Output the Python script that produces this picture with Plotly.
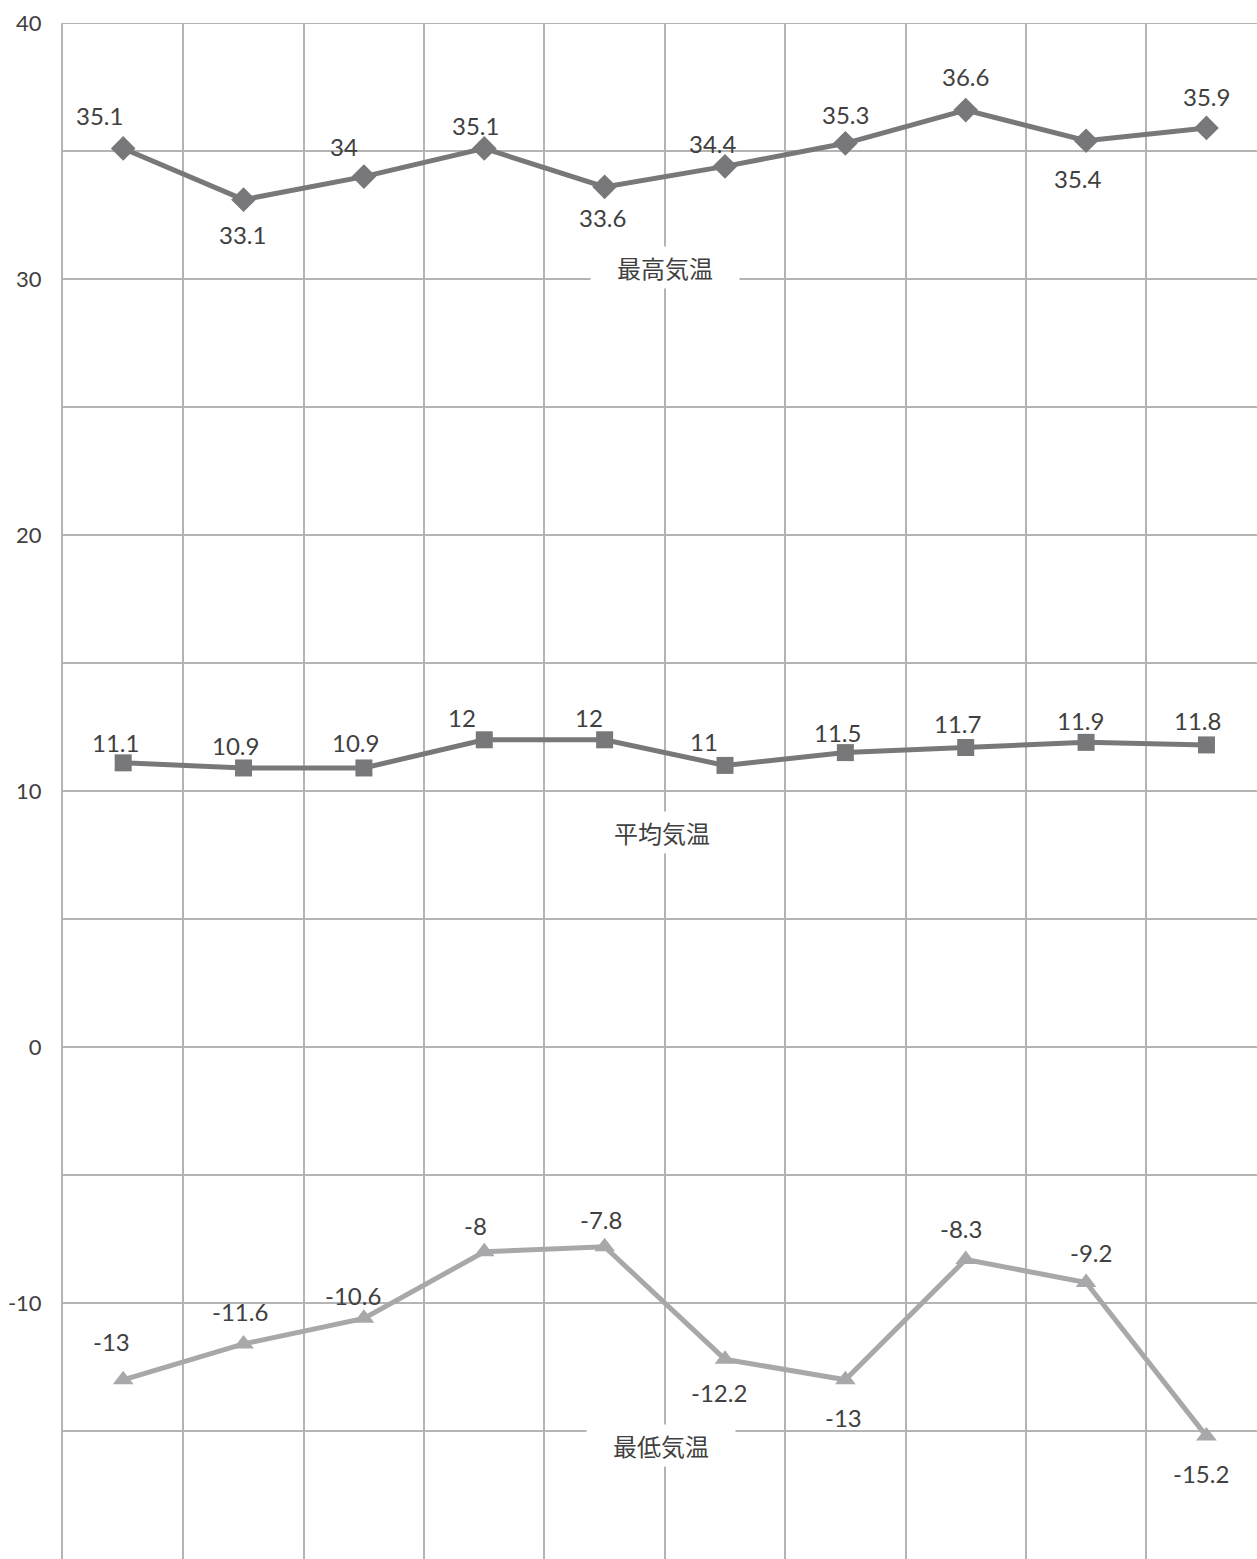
import plotly.graph_objects as go

categories = list(range(10))
max_temp = [35.1, 33.1, 34, 35.1, 33.6, 34.4, 35.3, 36.6, 35.4, 35.9]
avg_temp = [11.1, 10.9, 10.9, 12, 12, 11, 11.5, 11.7, 11.9, 11.8]
min_temp = [-13, -11.6, -10.6, -8, -7.8, -12.2, -13, -8.3, -9.2, -15.2]
series_names = ["最高気温", "平均気温", "最低気温"]
y_ticks = [-20, -10, 0, 10, 20, 30, 40]
y_tick_text = ["-20", "-10", "0", "10", "20", "30", "40"]

# label pixel offsets (style)
max_off = [(-24, 33), (-1, -35), (-20, 30), (-9, 23), (-2, -31), (-12, 23), (0, 29), (0, 34), (-8, -38), (0, 31)]
avg_off = [(-8, 20), (-8, 22), (-8, 25), (-22, 22), (-16, 22), (-21, 24), (-8, 20), (-8, 24), (-6, 22), (-9, 24)]
min_off = [(-12, 38), (-4, 32), (-11, 23), (-9, 26), (-4, 27), (-6, -33), (-2, -38), (-5, 31), (5, 30), (-5, -37)]

dark = "#78787b"
light = "#a8a8aa"
grid = "#b4b4b4"
txt = "#404040"

fig = go.Figure()
fig.add_trace(go.Scatter(x=categories, y=max_temp, mode="lines+markers",
                         line=dict(color=dark, width=5),
                         marker=dict(symbol="diamond", size=19, color=dark)))
fig.add_trace(go.Scatter(x=categories, y=avg_temp, mode="lines+markers",
                         line=dict(color=dark, width=5),
                         marker=dict(symbol="square", size=17, color=dark)))
fig.add_trace(go.Scatter(x=categories, y=min_temp, mode="lines+markers",
                         line=dict(color=light, width=5),
                         marker=dict(symbol="triangle-up", size=18, color=light)))

ann = []
for vals, offs in [(max_temp, max_off), (avg_temp, avg_off), (min_temp, min_off)]:
    for i, (v, (dx, dy)) in enumerate(zip(vals, offs)):
        ann.append(dict(x=categories[i], y=v, text=str(v), showarrow=False,
                        xshift=dx, yshift=dy,
                        font=dict(family="Lato", size=24, color=txt)))

name_pos = [(4.5, 30.43), (4.48, 8.36), (4.47, -15.55)]
for name, (xx, yy) in zip(series_names, name_pos):
    ann.append(dict(x=xx, y=yy, text=name, showarrow=False, bgcolor="white",
                    borderpad=3, width=142,
                    font=dict(family="Noto Sans CJK JP", size=24, color=txt)))

fig.update_layout(
    width=1257, height=1559,
    margin=dict(l=63, r=0, t=23, b=0),
    paper_bgcolor="white", plot_bgcolor="white",
    showlegend=False,
    annotations=ann,
    xaxis=dict(range=[-0.5, 9.42], tick0=0.5, dtick=1, showgrid=True,
               gridcolor=grid, gridwidth=2, showticklabels=False,
               zeroline=False, ticks=""),
    yaxis=dict(range=[-20, 40], tickvals=y_ticks, ticktext=y_tick_text,
               showgrid=True, gridcolor=grid, gridwidth=2, zeroline=False,
               showline=True, linecolor=grid, linewidth=2,
               ticks="", ticklabelstandoff=15,
               minor=dict(dtick=5, showgrid=True, gridcolor=grid, gridwidth=2),
               tickfont=dict(family="Lato", size=22, color=txt)),
)
fig.add_shape(type="line", xref="paper", yref="y", x0=0, x1=1, y0=40, y1=40,
              line=dict(color=grid, width=2), layer="below")

fig.write_html("out.html", config={"displayModeBar": False},
               post_script="document.body.style.margin='0';document.body.style.overflow='hidden';")
